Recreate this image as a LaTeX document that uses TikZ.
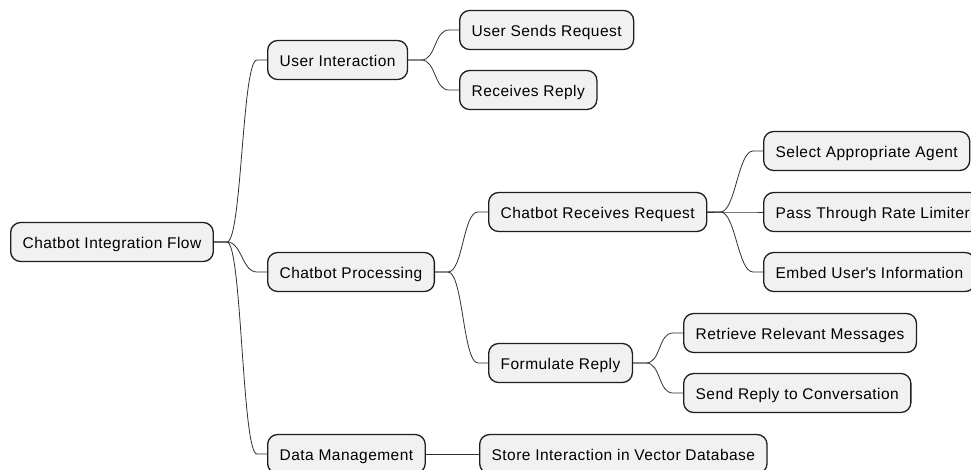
\documentclass[tikz,border=0pt]{standalone}
\usepackage{fontspec}
\setmainfont[LetterSpace=3]{Liberation Sans}
\definecolor{boxfill}{HTML}{F1F1F1}
\definecolor{boxline}{HTML}{1E1E1E}
\definecolor{wire}{HTML}{303030}

\begin{document}
\begin{tikzpicture}[x=1pt,y=-1pt,
  topic/.style={draw=boxline,line width=1.3pt,fill=boxfill,rounded corners=10pt,
    anchor=west,minimum height=39pt,inner xsep=12pt,
    text height=15pt,text depth=3pt,
    font=\fontsize{15.5}{18}\selectfont},
  branch/.style={draw=wire,line width=0.8pt},
  sway/.style={out=0,in=180,out distance=15pt,in distance=15pt}]
\useasboundingbox (0,0) rectangle (971,469);
\fill[white] (0,0) rectangle (971,469);

% root and first level
\node[topic] (root) at (10,242) {Chatbot Integration Flow};
\node[topic] (user) at (267,60) {User Interaction};
\node[topic] (proc) at (267,272) {Chatbot Processing};
\node[topic] (data) at (267,454) {Data Management};

% user interaction
\node[topic] (sends) at (459,30) {User Sends Request};
\node[topic] (gets) at (459,90) {Receives Reply};

% chatbot processing
\node[topic] (recv) at (488,212) {Chatbot Receives Request};
\node[topic] (form) at (488,363) {Formulate Reply};
\node[topic] (agent) at (763,151) {Select Appropriate Agent};
\node[topic] (rate) at (763,212) {Pass Through Rate Limiter};
\node[topic] (embed) at (763,272) {Embed User\textquotesingle s Information};
\node[topic] (fetch) at (683,333) {Retrieve Relevant Messages};
\node[topic] (reply) at (683,393) {Send Reply to Conversation};

% data management
\node[topic] (store) at (479,454) {Store Interaction in Vector Database};

% connectors
\draw[branch] (root.east) -- ++(13,0) to[sway] ([xshift=-10pt]user.west) -- (user.west);
\draw[branch] (root.east) -- ++(13,0) to[sway] ([xshift=-10pt]proc.west) -- (proc.west);
\draw[branch] (root.east) -- ++(13,0) to[sway] ([xshift=-10pt]data.west) -- (data.west);
\draw[branch] (user.east) -- ++(13,0) to[sway] ([xshift=-10pt]sends.west) -- (sends.west);
\draw[branch] (user.east) -- ++(13,0) to[sway] ([xshift=-10pt]gets.west) -- (gets.west);
\draw[branch] (proc.east) -- ++(13,0) to[sway] ([xshift=-10pt]recv.west) -- (recv.west);
\draw[branch] (proc.east) -- ++(13,0) to[sway] ([xshift=-10pt]form.west) -- (form.west);
\draw[branch] (recv.east) -- ++(13,0) to[sway] ([xshift=-10pt]agent.west) -- (agent.west);
\draw[branch] (recv.east) -- ++(13,0) to[sway] ([xshift=-10pt]rate.west) -- (rate.west);
\draw[branch] (recv.east) -- ++(13,0) to[sway] ([xshift=-10pt]embed.west) -- (embed.west);
\draw[branch] (form.east) -- ++(13,0) to[sway] ([xshift=-10pt]fetch.west) -- (fetch.west);
\draw[branch] (form.east) -- ++(13,0) to[sway] ([xshift=-10pt]reply.west) -- (reply.west);
\draw[branch] (data.east) -- (store.west);
\end{tikzpicture}
\end{document}
